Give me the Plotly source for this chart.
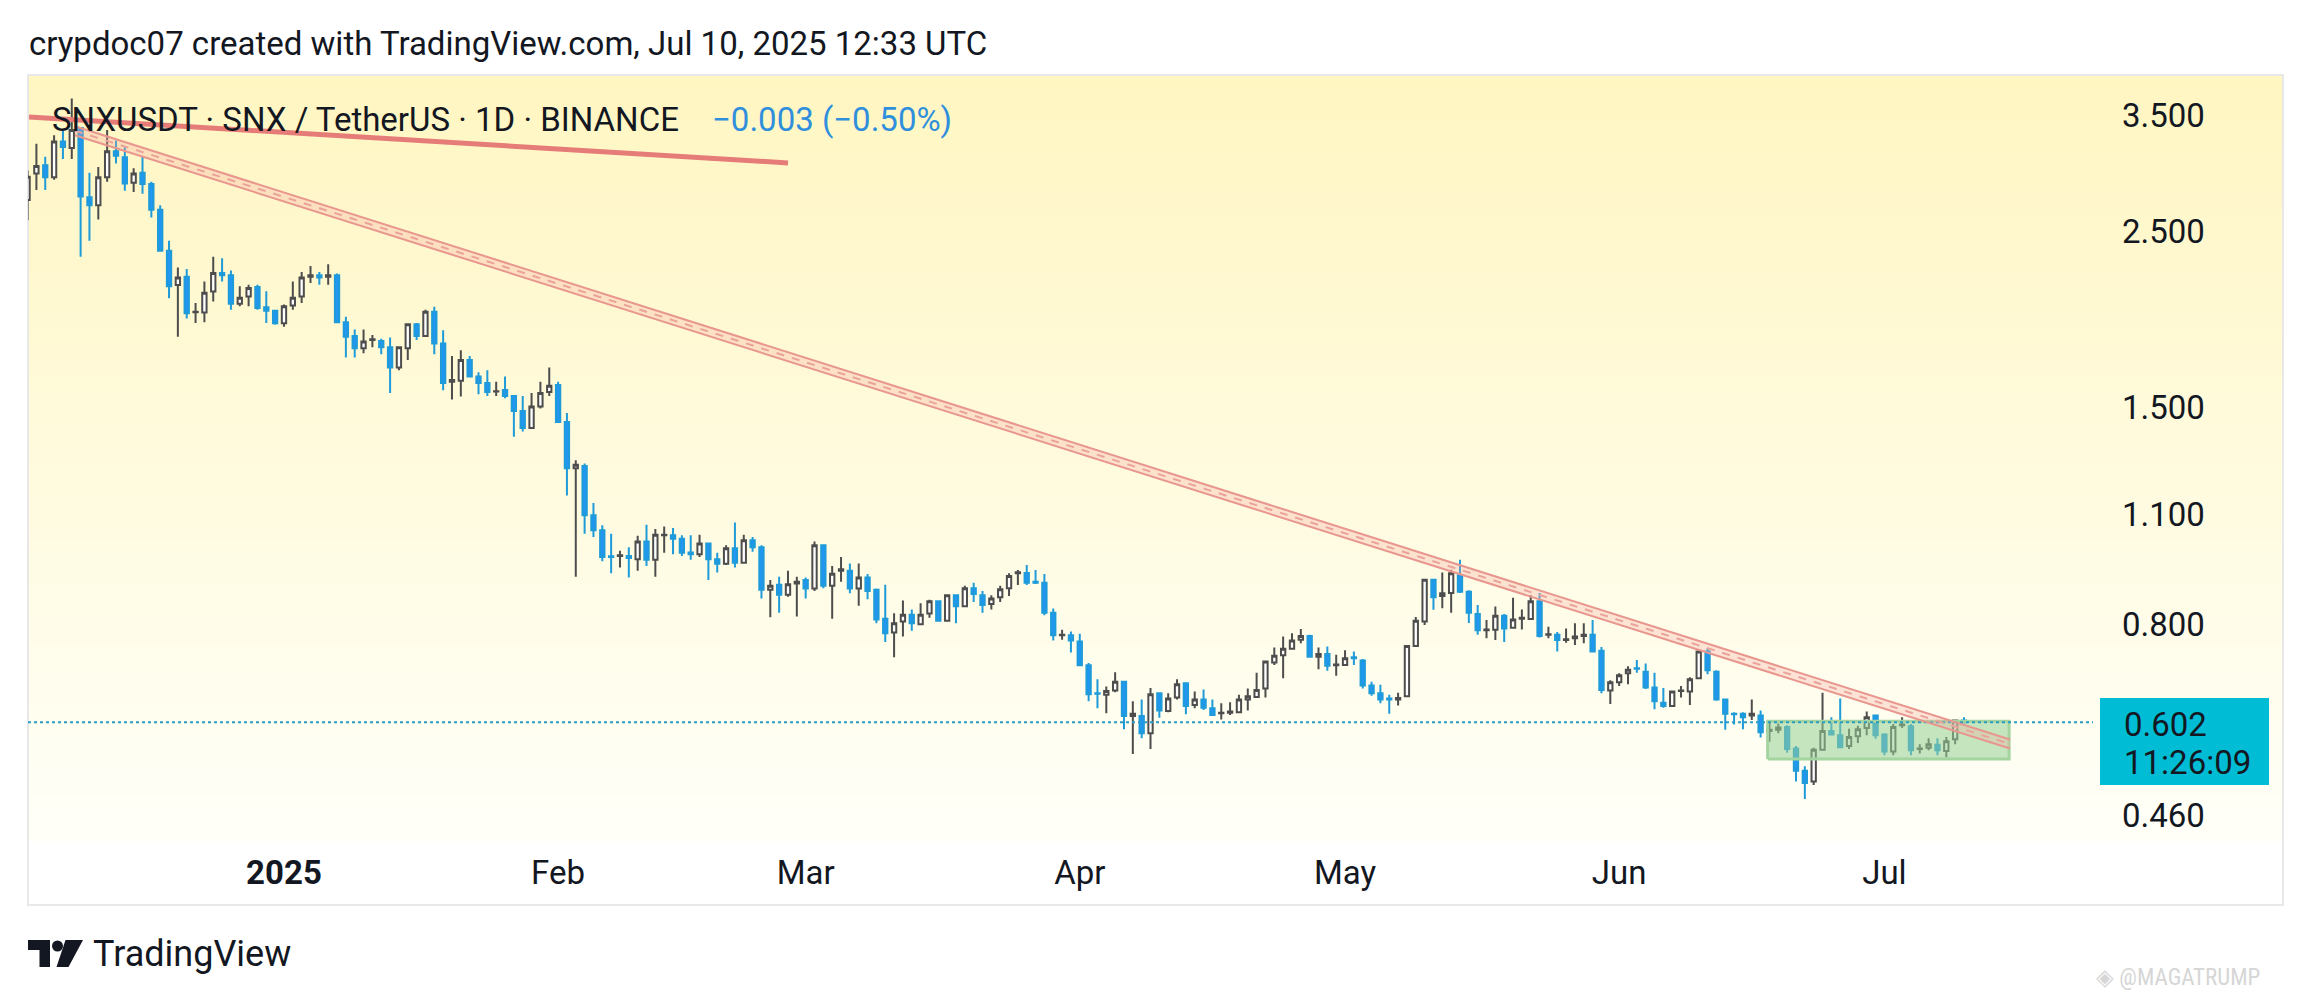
import math

import pandas as pd
import plotly.graph_objects as go

# Daily SNXUSDT candles: (open, high, low, close)
DEC_2024 = [
    (2.736, 2.98, 2.58, 2.927), (2.954, 3.22, 2.816, 3.019), (3.025, 3.10, 2.816, 2.922),
    (2.922, 3.30, 2.90, 3.24), (3.24, 3.35, 3.08, 3.19), (3.18, 3.67, 3.08, 3.35),
    (3.37, 3.38, 2.32, 2.763), (2.758, 2.96, 2.43, 2.694), (2.694, 3.01, 2.585, 2.922),
    (2.922, 3.35, 2.885, 3.15), (3.15, 3.25, 3.04, 3.11), (3.097, 3.19, 2.81, 2.87),
    (2.875, 3.00, 2.80, 2.955), (2.96, 3.10, 2.786, 2.865), (2.865, 2.885, 2.60, 2.66),
    (2.66, 2.695, 2.36, 2.362), (2.362, 2.43, 2.058, 2.13), (2.138, 2.25, 1.84, 2.186),
    (2.19, 2.24, 1.94, 1.97), (1.976, 2.03, 1.915, 1.978), (1.974, 2.16, 1.92, 2.09),
    (2.098, 2.32, 2.038, 2.214), (2.214, 2.31, 2.16, 2.20), (2.20, 2.23, 1.99, 2.025),
    (2.025, 2.13, 2.01, 2.06), (2.068, 2.14, 2.01, 2.12), (2.126, 2.14, 1.99, 2.00),
    (2.005, 2.10, 1.915, 1.985), (1.985, 1.99, 1.905, 1.914),
]
JAN_2025 = [
    (1.914, 2.02, 1.895, 2.01), (2.015, 2.16, 1.99, 2.06), (2.068, 2.22, 2.03, 2.186),
    (2.19, 2.26, 2.15, 2.20), (2.20, 2.22, 2.14, 2.186), (2.19, 2.27, 2.14, 2.20),
    (2.20, 2.21, 1.915, 1.92), (1.92, 1.95, 1.733, 1.84), (1.845, 1.88, 1.733, 1.78),
    (1.78, 1.88, 1.755, 1.815), (1.823, 1.85, 1.785, 1.827), (1.818, 1.83, 1.75, 1.785),
    (1.785, 1.837, 1.563, 1.684), (1.684, 1.79, 1.67, 1.785), (1.78, 1.913, 1.72, 1.908),
    (1.908, 1.915, 1.823, 1.845), (1.845, 1.99, 1.84, 1.978), (1.978, 2.008, 1.75, 1.805),
    (1.805, 1.875, 1.576, 1.61), (1.615, 1.74, 1.534, 1.623), (1.62, 1.77, 1.548, 1.72),
    (1.72, 1.74, 1.635, 1.64), (1.64, 1.66, 1.558, 1.61), (1.61, 1.67, 1.55, 1.568),
    (1.57, 1.615, 1.55, 1.571), (1.577, 1.64, 1.54, 1.55), (1.55, 1.554, 1.377, 1.484),
    (1.484, 1.55, 1.398, 1.413), (1.413, 1.563, 1.41, 1.503), (1.503, 1.615, 1.495, 1.563),
    (1.568, 1.684, 1.55, 1.597),
]
FEB_2025 = [
    (1.60, 1.615, 1.433, 1.437), (1.437, 1.475, 1.162, 1.257), (1.257, 1.287, 0.918, 1.27),
    (1.265, 1.275, 1.04, 1.097), (1.097, 1.137, 1.03, 1.05), (1.05, 1.066, 0.96, 0.972),
    (0.974, 1.04, 0.927, 0.972), (0.975, 0.99, 0.943, 0.977), (0.975, 1.00, 0.916, 0.969),
    (0.966, 1.034, 0.934, 1.017), (1.017, 1.067, 0.947, 0.964), (0.964, 1.054, 0.918, 1.037),
    (1.035, 1.062, 0.984, 1.037), (1.035, 1.057, 0.98, 1.025), (1.025, 1.035, 0.975, 0.984),
    (0.985, 1.035, 0.964, 0.98), (0.98, 1.037, 0.972, 1.011), (1.011, 1.013, 0.909, 0.966),
    (0.966, 0.984, 0.929, 0.953), (0.953, 1.006, 0.95, 0.997), (0.997, 1.074, 0.943, 0.956),
    (0.956, 1.037, 0.953, 1.02), (1.02, 1.03, 0.987, 1.00), (1.00, 1.006, 0.862, 0.884),
    (0.884, 0.909, 0.816, 0.894), (0.897, 0.918, 0.827, 0.871), (0.871, 0.934, 0.866, 0.898),
    (0.90, 0.918, 0.818, 0.905),
]
MAR_2025 = [
    (0.909, 0.916, 0.862, 0.887), (0.887, 1.017, 0.881, 1.006), (1.006, 1.008, 0.888, 0.894),
    (0.894, 0.947, 0.813, 0.926), (0.934, 0.972, 0.905, 0.938), (0.934, 0.954, 0.875, 0.887),
    (0.887, 0.954, 0.844, 0.916), (0.916, 0.925, 0.86, 0.881), (0.884, 0.887, 0.802, 0.811),
    (0.813, 0.897, 0.76, 0.779), (0.781, 0.826, 0.727, 0.802), (0.806, 0.857, 0.772, 0.822),
    (0.822, 0.835, 0.785, 0.802), (0.80, 0.85, 0.798, 0.822), (0.825, 0.859, 0.815, 0.855),
    (0.855, 0.857, 0.806, 0.808), (0.808, 0.872, 0.806, 0.87), (0.87, 0.872, 0.802, 0.843),
    (0.843, 0.894, 0.84, 0.888), (0.888, 0.902, 0.853, 0.873), (0.87, 0.881, 0.827, 0.846),
    (0.848, 0.87, 0.835, 0.862), (0.865, 0.894, 0.853, 0.885), (0.888, 0.927, 0.868, 0.92),
    (0.927, 0.936, 0.896, 0.93), (0.928, 0.95, 0.896, 0.902), (0.905, 0.936, 0.899, 0.902),
    (0.902, 0.925, 0.821, 0.827), (0.827, 0.837, 0.763, 0.775), (0.775, 0.787, 0.765, 0.776),
    (0.775, 0.783, 0.737, 0.763),
]
APR_2025 = [
    (0.761, 0.778, 0.709, 0.71), (0.71, 0.715, 0.64, 0.653), (0.655, 0.682, 0.627, 0.654),
    (0.652, 0.668, 0.618, 0.659), (0.66, 0.696, 0.657, 0.677), (0.677, 0.679, 0.59, 0.613),
    (0.613, 0.64, 0.549, 0.617), (0.613, 0.643, 0.575, 0.583), (0.583, 0.665, 0.557, 0.653),
    (0.655, 0.656, 0.61, 0.623), (0.622, 0.655, 0.62, 0.645), (0.647, 0.682, 0.643, 0.672),
    (0.674, 0.675, 0.616, 0.631), (0.633, 0.658, 0.627, 0.643), (0.643, 0.662, 0.624, 0.628),
    (0.627, 0.643, 0.613, 0.615), (0.618, 0.636, 0.607, 0.619), (0.619, 0.638, 0.615, 0.621),
    (0.62, 0.652, 0.618, 0.643), (0.643, 0.664, 0.623, 0.649), (0.648, 0.695, 0.647, 0.661),
    (0.664, 0.72, 0.647, 0.718), (0.716, 0.748, 0.711, 0.73), (0.731, 0.772, 0.684, 0.745),
    (0.745, 0.779, 0.743, 0.763), (0.765, 0.789, 0.757, 0.773), (0.773, 0.776, 0.727, 0.728),
    (0.728, 0.748, 0.702, 0.734), (0.734, 0.75, 0.699, 0.709), (0.71, 0.732, 0.689, 0.712),
]
MAY_2025 = [
    (0.711, 0.742, 0.709, 0.725), (0.727, 0.739, 0.711, 0.725), (0.72, 0.723, 0.664, 0.67),
    (0.67, 0.677, 0.65, 0.655), (0.655, 0.671, 0.636, 0.643), (0.645, 0.652, 0.617, 0.643),
    (0.643, 0.656, 0.632, 0.646), (0.649, 0.753, 0.648, 0.751), (0.751, 0.817, 0.75, 0.808),
    (0.806, 0.912, 0.798, 0.91), (0.91, 0.912, 0.834, 0.865), (0.868, 0.929, 0.838, 0.875),
    (0.876, 0.937, 0.827, 0.927), (0.922, 0.964, 0.876, 0.879), (0.879, 0.883, 0.803, 0.827),
    (0.824, 0.846, 0.776, 0.786), (0.786, 0.81, 0.768, 0.788), (0.787, 0.842, 0.764, 0.82),
    (0.82, 0.824, 0.76, 0.79), (0.792, 0.864, 0.79, 0.811), (0.813, 0.835, 0.788, 0.815),
    (0.812, 0.87, 0.81, 0.855), (0.855, 0.876, 0.77, 0.773), (0.776, 0.794, 0.768, 0.777),
    (0.776, 0.782, 0.739, 0.764), (0.764, 0.79, 0.758, 0.766), (0.768, 0.802, 0.753, 0.772),
    (0.773, 0.802, 0.757, 0.776), (0.776, 0.81, 0.737, 0.739), (0.741, 0.749, 0.655, 0.661),
    (0.66, 0.68, 0.635, 0.676),
]
JUN_2025 = [
    (0.676, 0.694, 0.669, 0.69), (0.694, 0.708, 0.672, 0.701), (0.704, 0.721, 0.695, 0.703),
    (0.697, 0.714, 0.663, 0.666), (0.666, 0.695, 0.625, 0.64), (0.637, 0.665, 0.628, 0.631),
    (0.631, 0.66, 0.63, 0.658), (0.659, 0.669, 0.647, 0.66), (0.658, 0.686, 0.633, 0.682),
    (0.684, 0.744, 0.682, 0.739), (0.739, 0.746, 0.692, 0.70), (0.697, 0.70, 0.641, 0.643),
    (0.643, 0.645, 0.589, 0.617), (0.617, 0.62, 0.598, 0.616), (0.617, 0.62, 0.59, 0.611),
    (0.614, 0.643, 0.606, 0.617), (0.614, 0.623, 0.576, 0.585), (0.587, 0.606, 0.569, 0.589),
    (0.589, 0.60, 0.583, 0.593), (0.594, 0.597, 0.551, 0.557), (0.558, 0.562, 0.507, 0.523),
    (0.523, 0.53, 0.482, 0.505), (0.507, 0.559, 0.502, 0.556), (0.556, 0.656, 0.555, 0.587),
    (0.587, 0.611, 0.58, 0.581), (0.58, 0.645, 0.559, 0.56), (0.562, 0.591, 0.557, 0.577),
    (0.578, 0.596, 0.567, 0.59), (0.592, 0.621, 0.58, 0.611), (0.614, 0.615, 0.574, 0.58),
]
JUL_2025 = [
    (0.581, 0.583, 0.547, 0.553), (0.553, 0.599, 0.547, 0.594), (0.597, 0.611, 0.592, 0.598),
    (0.595, 0.599, 0.547, 0.555), (0.557, 0.565, 0.55, 0.558), (0.559, 0.575, 0.555, 0.565),
    (0.564, 0.575, 0.547, 0.555), (0.554, 0.577, 0.544, 0.57), (0.573, 0.606, 0.565, 0.605),
    (0.605, 0.611, 0.60, 0.602),
]
FIRST_DAY, LAST_DAY = "2024-12-03", "2025-07-10"
LAST_PRICE = 0.602

# drawings
TREND_X = ["2024-12-03 04:00", "2025-02-27 00:00"]
TREND_Y = [3.48, 3.046]
CHANNEL_X = ["2024-12-08 08:40", "2025-07-15 05:00"]
CHANNEL_UPPER = [3.388, 0.5727]
CHANNEL_MID = [3.344, 0.5653]
CHANNEL_LOWER = [3.301, 0.558]
BOX_X = ["2025-06-17 19:00", "2025-07-15 02:30"]
BOX_Y = [0.5412, 0.604]

X_RANGE = ["2024-12-03 01:12", "2025-07-24 14:10"]
Y_RANGE = [0.428, 3.93]
X_TICKS = ["2025-01-01", "2025-02-01", "2025-03-01", "2025-04-01",
           "2025-05-01", "2025-06-01", "2025-07-01"]
X_LABELS = ["<b>2025</b>", "Feb", "Mar", "Apr", "May", "Jun", "Jul"]
Y_TICKS = [3.5, 2.5, 1.5, 1.1, 0.8, 0.46]
Y_LABELS = ["3.500", "2.500", "1.500", "1.100", "0.800", "0.460"]

# page body has an 8px margin, so the figure is drawn 8px in and 16px smaller
OFF = 8
W, H = 2311 - 2 * OFF, 1004 - 2 * OFF
ML, MT = 28 - OFF, 75 - OFF
MR = W - (2093 - OFF)
MB = H - (840 - OFF)
PW, PH = W - ML - MR, H - MT - MB
FONT = "Roboto, sans-serif"
INK = "#131722"
FS = 33


def px(x):
    # screenshot x pixel -> paper x
    return (x - OFF - ML) / PW


def py(y):
    # screenshot y pixel -> paper y
    return (H - MB - (y - OFF)) / PH


candles = DEC_2024 + JAN_2025 + FEB_2025 + MAR_2025 + APR_2025 + MAY_2025 + JUN_2025 + JUL_2025
df = pd.DataFrame(candles, columns=["open", "high", "low", "close"])
df["date"] = pd.date_range(FIRST_DAY, LAST_DAY, freq="D")

fig = go.Figure()

# green consolidation box (under candles)
fig.add_trace(go.Scatter(
    x=[BOX_X[0], BOX_X[1], BOX_X[1], BOX_X[0], BOX_X[0]],
    y=[BOX_Y[0], BOX_Y[0], BOX_Y[1], BOX_Y[1], BOX_Y[0]],
    mode="lines", fill="toself", fillcolor="rgba(150,208,150,0.55)",
    line=dict(color="#a4d4a0", width=3), hoverinfo="skip", showlegend=False,
))

# last price dotted line
fig.add_trace(go.Scatter(
    x=X_RANGE, y=[LAST_PRICE, LAST_PRICE], mode="lines",
    line=dict(color="#2a9cc4", width=2, dash="dot"), hoverinfo="skip", showlegend=False,
))

fig.add_trace(go.Candlestick(
    x=df["date"], open=df["open"], high=df["high"], low=df["low"], close=df["close"],
    increasing=dict(fillcolor="#ffffff", line=dict(color="#4d4d4d", width=2)),
    decreasing=dict(fillcolor="#2196f3", line=dict(color="#1e9bd8", width=2)),
    whiskerwidth=0, hoverinfo="skip", showlegend=False,
))

# descending channel
fig.add_trace(go.Scatter(
    x=CHANNEL_X + CHANNEL_X[::-1] + CHANNEL_X[:1],
    y=CHANNEL_UPPER + CHANNEL_LOWER[::-1] + CHANNEL_UPPER[:1],
    mode="lines", fill="toself", fillcolor="rgba(245,170,160,0.30)",
    line=dict(width=0), hoverinfo="skip", showlegend=False,
))
for edge in (CHANNEL_UPPER, CHANNEL_LOWER):
    fig.add_trace(go.Scatter(
        x=CHANNEL_X, y=edge, mode="lines",
        line=dict(color="#e8968e", width=2), hoverinfo="skip", showlegend=False,
    ))
fig.add_trace(go.Scatter(
    x=CHANNEL_X, y=CHANNEL_MID, mode="lines",
    line=dict(color="#eaa39b", width=2, dash="8px,8px"), hoverinfo="skip", showlegend=False,
))

# thick red trend line top-left
fig.add_trace(go.Scatter(
    x=TREND_X, y=TREND_Y, mode="lines",
    line=dict(color="#e67c78", width=5), hoverinfo="skip", showlegend=False,
))

# yellow -> white background gradient over the pane
shapes = []
top_rgb, bot_rgb = (255, 246, 194), (255, 255, 248)
bands = 51
for i in range(bands):
    t = i / (bands - 1)
    c = tuple(round(a + (b - a) * t) for a, b in zip(top_rgb, bot_rgb))
    y0 = 75 + i * PH / bands
    y1 = 75 + (i + 1) * PH / bands + 1
    shapes.append(dict(
        type="rect", xref="paper", yref="paper", layer="below",
        x0=px(28), x1=px(2283), y0=py(y1), y1=py(y0),
        fillcolor="rgb(%d,%d,%d)" % c, line=dict(width=0),
    ))
shapes.append(dict(
    type="rect", xref="paper", yref="paper", layer="below",
    x0=px(28), x1=px(2283), y0=py(905), y1=py(75),
    fillcolor="rgba(0,0,0,0)", line=dict(color="#e8e8e8", width=2),
))
# last price tag
shapes.append(dict(
    type="rect", xref="paper", yref="paper",
    x0=px(2100), x1=px(2269), y0=py(785), y1=py(698),
    fillcolor="#00bcd4", line=dict(width=0),
))
# TradingView logo
shapes.append(dict(
    type="path", xref="paper", yref="paper",
    path="M %f %f L %f %f L %f %f L %f %f L %f %f L %f %f Z" % (
        px(28), py(940), px(50), py(940), px(50), py(967),
        px(39.5), py(967), px(39.5), py(950), px(28), py(950)),
    fillcolor=INK, line=dict(width=0),
))
shapes.append(dict(
    type="circle", xref="paper", yref="paper",
    x0=px(52), x1=px(63), y0=py(951.5), y1=py(940.5),
    fillcolor=INK, line=dict(width=0),
))
shapes.append(dict(
    type="path", xref="paper", yref="paper",
    path="M %f %f L %f %f L %f %f L %f %f Z" % (
        px(65.5), py(940), px(83), py(940), px(68.5), py(967), px(56.5), py(967)),
    fillcolor=INK, line=dict(width=0),
))

annotations = [
    dict(text="crypdoc07 created with TradingView.com, Jul 10, 2025 12:33 UTC",
         x=px(27), y=py(44), font=dict(size=FS, color=INK)),
    dict(text="SNXUSDT · SNX / TetherUS · 1D · BINANCE",
         x=px(50), y=py(119), font=dict(size=FS, color=INK)),
    dict(text="\u22120.003 (\u22120.50%)",
         x=px(710), y=py(119), font=dict(size=FS, color="#2f8fdc")),
    dict(text="0.602", x=px(2122), y=py(724), font=dict(size=FS, color=INK)),
    dict(text="11:26:09", x=px(2122), y=py(762), font=dict(size=FS, color=INK)),
    dict(text="TradingView", x=px(91), y=py(954), font=dict(size=36, color=INK)),
    dict(text="\u25c8 @MAGATRUMP", x=px(2094), y=py(977),
         font=dict(size=23, color="#d6d6d6", family="Roboto Condensed, Roboto, sans-serif")),
]
for a in annotations:
    a.update(xref="paper", yref="paper", xanchor="left", yanchor="middle", showarrow=False)

fig.update_layout(
    width=W, height=H,
    margin=dict(l=ML, r=MR, t=MT, b=MB),
    paper_bgcolor="#ffffff", plot_bgcolor="rgba(0,0,0,0)",
    font=dict(family=FONT, color=INK),
    shapes=shapes, annotations=annotations,
    showlegend=False,
)
fig.update_xaxes(
    type="date", range=X_RANGE, rangeslider_visible=False,
    showgrid=False, zeroline=False, showline=False, ticks="",
    tickvals=X_TICKS, ticktext=X_LABELS, ticklabelstandoff=10,
    tickfont=dict(size=FS, color=INK, family=FONT),
)
fig.update_yaxes(
    type="log", range=[math.log10(Y_RANGE[0]), math.log10(Y_RANGE[1])], side="right",
    showgrid=False, zeroline=False, showline=False, ticks="",
    tickvals=Y_TICKS, ticktext=Y_LABELS, ticklabelstandoff=28,
    tickfont=dict(size=FS, color=INK, family=FONT),
)

fig.write_html("out.html")
